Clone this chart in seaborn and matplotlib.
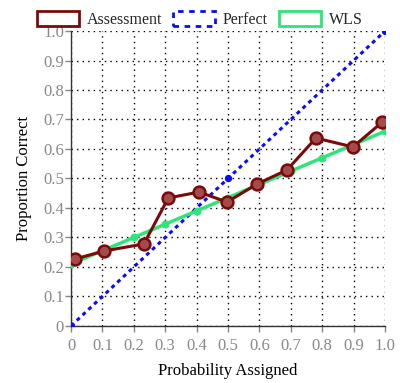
import matplotlib
matplotlib.use("Agg")
import matplotlib.pyplot as plt
import seaborn as sns
import pandas as pd
from matplotlib.patches import Patch

# Calibration data
assess_x = [0.013, 0.105, 0.232, 0.31, 0.408, 0.497, 0.592, 0.688, 0.78, 0.898, 0.99]
assess_y = [0.227, 0.254, 0.278, 0.434, 0.454, 0.42, 0.481, 0.529, 0.637, 0.607, 0.69]
perfect_x = [0.0, 0.5, 1.0]
perfect_y = [0.0, 0.5, 1.0]
wls_x = [0.0, 0.1, 0.2, 0.3, 0.4, 0.5, 0.6, 0.7, 0.8, 0.9, 1.0]
wls_y = [0.21, 0.255, 0.30, 0.345, 0.39, 0.435, 0.48, 0.525, 0.57, 0.615, 0.66]
ticks = [0, 0.1, 0.2, 0.3, 0.4, 0.5, 0.6, 0.7, 0.8, 0.9, 1.0]
tick_labels = ["0", "0.1", "0.2", "0.3", "0.4", "0.5", "0.6", "0.7", "0.8", "0.9", "1.0"]

sns.set_style("white")
plt.rcParams["font.family"] = ["Liberation Serif", "DejaVu Serif"]

RED = "#7a0a0a"
BLUE = "#0a0aff"
GREEN = "#2ee57a"

fig = plt.figure(figsize=(4.0, 3.83), dpi=100)
ax = fig.add_axes([0.1775, 0.149, 0.785, 0.770])

df_wls = pd.DataFrame({"x": wls_x, "y": wls_y})
df_perf = pd.DataFrame({"x": perfect_x, "y": perfect_y})
df_ass = pd.DataFrame({"x": assess_x, "y": assess_y})

sns.lineplot(data=df_perf, x="x", y="y", ax=ax, color=BLUE, lw=2.2,
             linestyle=(0, (1.3, 1.3)), marker="o", markersize=4.5,
             markeredgecolor=BLUE, zorder=3)
sns.lineplot(data=df_wls, x="x", y="y", ax=ax, color=GREEN, lw=2.5,
             marker="o", markersize=5, markeredgecolor=GREEN, zorder=4)
sns.lineplot(data=df_ass, x="x", y="y", ax=ax, color=RED, lw=2.2,
             marker="o", markersize=8.5, markerfacecolor="#a44a4a",
             markeredgecolor=RED, markeredgewidth=1.8, zorder=5)

ax.set_xlim(0, 1.0)
ax.set_ylim(0, 1.0)
ax.set_xticks(ticks)
ax.set_xticklabels(tick_labels)
ax.set_yticks(ticks)
ax.set_yticklabels(tick_labels)
ax.grid(True, color="black", linestyle=(0, (1, 3)), lw=1.0)
ax.set_axisbelow(True)
for s in ["top", "right"]:
    ax.spines[s].set_visible(False)
for s in ["left", "bottom"]:
    ax.spines[s].set_color("#333333")
    ax.spines[s].set_linewidth(1.0)
ax.tick_params(axis="both", colors="#888888", labelsize=12, length=4,
               width=1, direction="out", left=True, bottom=True)
ax.tick_params(axis="x", pad=5)
ax.tick_params(axis="y", pad=1)
ax.set_xlabel("Probability Assigned", fontsize=12, color="black", labelpad=6)
ax.set_ylabel("Proportion Correct", fontsize=12, color="black", labelpad=8)

handles = [
    Patch(facecolor="white", edgecolor=RED, lw=2, label="Assessment"),
    Patch(facecolor="white", edgecolor=BLUE, lw=2, linestyle=(0, (2, 2)), label="Perfect"),
    Patch(facecolor="white", edgecolor=GREEN, lw=2, label="WLS"),
]
fig.legend(handles=handles, loc="upper center", bbox_to_anchor=(0.5, 1.01),
           ncol=3, frameon=False, fontsize=11.5, handlelength=2.6,
           handleheight=1.1, columnspacing=0.7, handletextpad=0.5)

fig.savefig("out.png", dpi=100)
